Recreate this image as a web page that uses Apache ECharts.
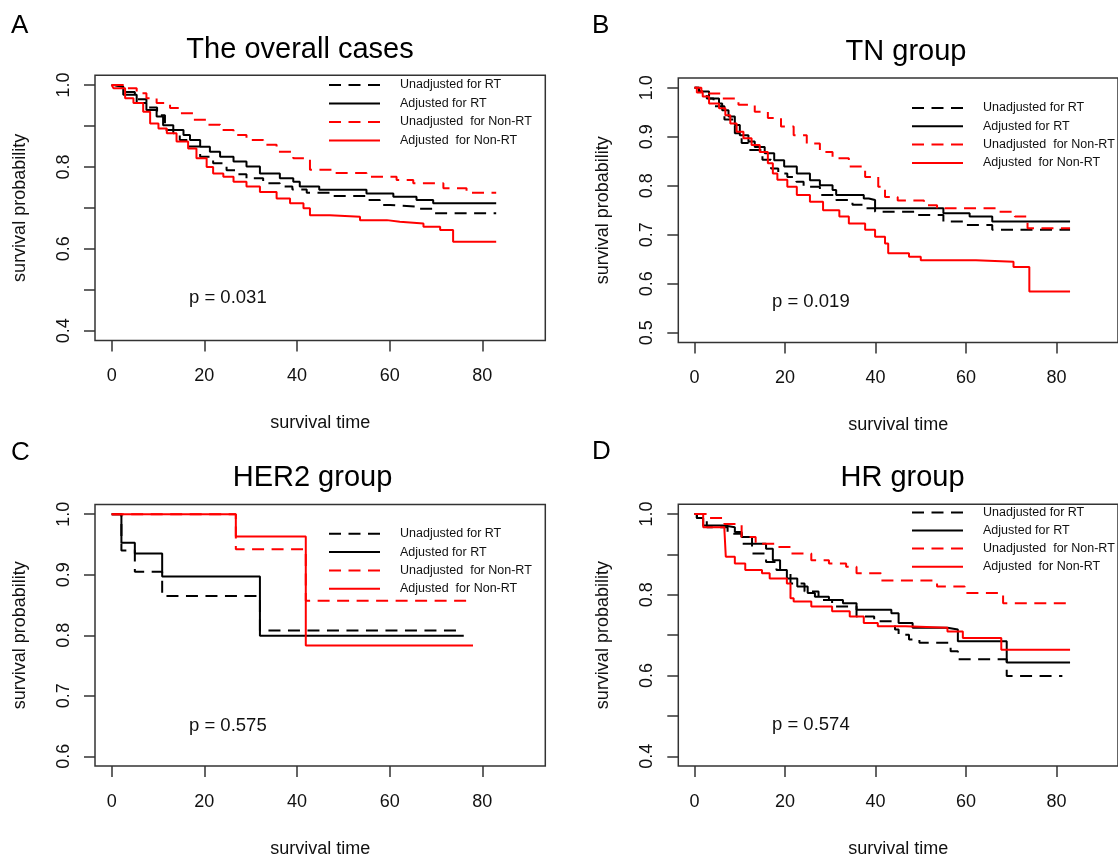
<!DOCTYPE html>
<html>
<head>
<meta charset="utf-8">
<script src="https://cdn.jsdelivr.net/npm/echarts@6/dist/echarts.min.js"></script>
<style>
html,body{margin:0;padding:0;background:#fff;}
#c{width:1118px;height:859px;}
</style>
</head>
<body>
<div id="c"></div>
<script>
// ---------- data ----------
const seriesNames = ['Unadjusted for RT', 'Adjusted for RT', 'Unadjusted  for Non-RT', 'Adjusted  for Non-RT'];
const panelTitles = ['The overall cases', 'TN group', 'HER2 group', 'HR group'];
const panelLetters = ['A', 'B', 'C', 'D'];
const pValues = ['p = 0.031', 'p = 0.019', 'p = 0.575', 'p = 0.574'];
const xTicks = [0, 20, 40, 60, 80];
const yTicksA = [0.4, 0.5, 0.6, 0.7, 0.8, 0.9, 1.0];
const yLabelsA = [0.4, 0.6, 0.8, 1.0];
const yTicksB = [0.5, 0.6, 0.7, 0.8, 0.9, 1.0];
const yTicksC = [0.6, 0.7, 0.8, 0.9, 1.0];
const yTicksD = [0.4, 0.5, 0.6, 0.7, 0.8, 0.9, 1.0];
const yLabelsD = [0.4, 0.6, 0.8, 1.0];

// Panel A: overall cases  [time, survival]
const aUnadjRT = [[0,1],[0.5,0.996],[2.5,0.983],[5,0.965],[7.5,0.945],[9.8,0.926],[11.5,0.89],[13.3,0.882],[14.7,0.866],[16.5,0.85],[19.1,0.825],[21.9,0.809],[24.8,0.792],[27,0.782],[29.1,0.772],[32.7,0.76],[36.3,0.752],[39,0.745],[42.1,0.737],[47.8,0.729],[55,0.719],[57.9,0.707],[60.1,0.703],[66,0.698],[69.4,0.687],[83,0.687]];
const aAdjRT = [[0,1],[0.5,0.996],[2.5,0.976],[5.4,0.956],[7.5,0.939],[9.7,0.923],[11.1,0.902],[13.3,0.89],[15.5,0.878],[16.9,0.866],[19.1,0.849],[21.2,0.837],[23.4,0.825],[26.3,0.813],[29.1,0.801],[32,0.784],[36.3,0.772],[39.2,0.764],[40.6,0.752],[44.8,0.744],[55,0.735],[60.8,0.727],[65.8,0.719],[69.4,0.711],[83,0.711]];
const aUnadjNonRT = [[0,1],[3.2,0.992],[5.4,0.98],[7.5,0.968],[9.7,0.956],[12.6,0.944],[14.7,0.931],[17.6,0.915],[20.5,0.903],[23.4,0.89],[26.3,0.878],[29.1,0.866],[32.7,0.854],[35.6,0.837],[39.2,0.821],[42.8,0.793],[47.8,0.785],[55,0.776],[61.5,0.768],[65.1,0.76],[71.6,0.748],[76.6,0.737],[83,0.737]];
const aAdjNonRT = [[0,1],[0.4,0.992],[2.9,0.968],[4.7,0.956],[6.8,0.935],[8.3,0.906],[10.1,0.894],[11.9,0.882],[14,0.862],[16.5,0.845],[18.3,0.821],[20.5,0.8],[21.9,0.784],[24.1,0.776],[26.3,0.764],[29.1,0.752],[32,0.739],[35.6,0.723],[38.5,0.711],[41.4,0.699],[42.8,0.682],[47.1,0.678],[53.6,0.67],[59.4,0.666],[62.2,0.662],[67.3,0.654],[70.9,0.646],[73.7,0.617],[83,0.617]];

// Panel B: TN group
const bUnadjRT = [[0,1],[1,0.992],[2.7,0.978],[4.2,0.962],[6.6,0.935],[8.9,0.907],[10.4,0.887],[11.9,0.873],[15,0.853],[16.9,0.835],[18.5,0.825],[20.5,0.818],[22.5,0.808],[24.1,0.798],[27.7,0.781],[31.3,0.771],[34.9,0.761],[37.8,0.754],[39.9,0.747],[49.2,0.74],[55,0.727],[60,0.72],[65.8,0.71],[83,0.71]];
const bAdjRT = [[0,1],[1,0.992],[3.2,0.978],[5.4,0.968],[6.1,0.954],[7.5,0.941],[8.9,0.924],[10,0.903],[11.9,0.89],[13.3,0.879],[15.5,0.866],[17.6,0.852],[19.8,0.839],[22.6,0.825],[25.5,0.811],[27.7,0.801],[30.5,0.791],[31.3,0.781],[37.4,0.774],[38.5,0.771],[39.9,0.754],[55,0.744],[60.8,0.737],[65.8,0.727],[83,0.727]];
const bUnadjNonRT = [[0,1],[1.5,0.993],[3.2,0.988],[6.1,0.978],[9.7,0.965],[13.3,0.951],[16.2,0.938],[19.1,0.921],[21.9,0.903],[24.8,0.886],[27.7,0.869],[30.5,0.856],[34.1,0.839],[37.7,0.818],[40.6,0.798],[42.1,0.777],[44.9,0.77],[50.7,0.76],[53.6,0.754],[67.2,0.747],[70.8,0.737],[73.6,0.713],[83,0.713]];
const bAdjNonRT = [[0,1],[0.5,0.99],[1.8,0.982],[3.2,0.968],[5.4,0.958],[6.8,0.944],[7.9,0.927],[9.3,0.91],[10.8,0.897],[12.6,0.883],[14.4,0.869],[16.2,0.846],[17.3,0.825],[18.3,0.812],[20.5,0.798],[22.6,0.781],[25.5,0.767],[28.4,0.75],[32,0.737],[34.1,0.723],[37.7,0.71],[39.9,0.696],[42.1,0.682],[42.8,0.662],[47.4,0.655],[50,0.648],[62.2,0.645],[70.5,0.634],[74,0.584],[83,0.584]];

// Panel C: HER2 group
const cUnadjRT = [[0,1],[2.1,0.94],[5,0.905],[10.9,0.865],[32,0.808],[74.5,0.808]];
const cAdjRT = [[0,1],[2.1,0.953],[5,0.935],[10.9,0.897],[32,0.799],[76,0.799]];
const cUnadjNonRT = [[0,1],[26.8,0.942],[41.9,0.857],[76.8,0.857]];
const cAdjNonRT = [[0,1],[26.8,0.963],[41.9,0.783],[78,0.783]];

// Panel D: HR group
const dUnadjRT = [[0,1],[0.5,0.99],[2.7,0.967],[7.3,0.951],[10.4,0.926],[12.7,0.902],[15.8,0.881],[18.1,0.861],[21.2,0.828],[24.3,0.808],[27.4,0.787],[30.4,0.771],[35.8,0.746],[39.7,0.734],[44.3,0.714],[45.1,0.701],[47.4,0.689],[49.7,0.681],[56.6,0.66],[58.2,0.64],[69,0.599],[81.3,0.599]];
const dAdjRT = [[0,1],[0.5,0.99],[1.9,0.971],[6.6,0.967],[8.9,0.955],[10.4,0.943],[12.7,0.926],[15.8,0.914],[17.3,0.885],[18.9,0.861],[20.4,0.84],[22.7,0.82],[25,0.804],[26.6,0.795],[29.7,0.787],[32.8,0.779],[35.8,0.763],[43.5,0.754],[45.1,0.73],[48.2,0.718],[55.9,0.714],[58.2,0.685],[69,0.632],[83,0.632]];
const dUnadjNonRT = [[0,1],[2.7,0.99],[6.6,0.975],[10.4,0.943],[13.5,0.926],[18.1,0.918],[21.2,0.902],[25.8,0.885],[29.7,0.877],[33.5,0.869],[35.8,0.853],[41.2,0.835],[53.6,0.82],[59.7,0.804],[68.2,0.779],[83,0.779]];
const dAdjNonRT = [[0,1],[1.9,0.967],[6.6,0.959],[6.9,0.894],[8.9,0.877],[11.2,0.861],[14.9,0.853],[16.6,0.84],[20.4,0.828],[21.2,0.791],[21.9,0.783],[25.8,0.771],[30.4,0.759],[34.3,0.746],[37.4,0.73],[40.5,0.722],[46.6,0.718],[55.9,0.709],[59.3,0.693],[67.8,0.664],[83,0.664]];

// ---------- layout / style ----------
const FONT = 'Liberation Sans, Arial, sans-serif';
const TXT = '#111';
const AX = '#333';
const panelData = [
  [aUnadjRT, aAdjRT, aUnadjNonRT, aAdjNonRT],
  [bUnadjRT, bAdjRT, bUnadjNonRT, bAdjNonRT],
  [cUnadjRT, cAdjRT, cUnadjNonRT, cAdjNonRT],
  [dUnadjRT, dAdjRT, dUnadjNonRT, dAdjNonRT]
];
const grids = [
  {left: 95.0, top: 75.2, width: 450.3, height: 265.3},
  {left: 678.3, top: 77.9, width: 450.8, height: 264.6},
  {left: 95.0, top: 504.5, width: 450.3, height: 264.0},
  {left: 678.3, top: 504.2, width: 450.8, height: 263.9}
];
const yRanges = [[0.376, 1.024], [0.48, 1.02], [0.584, 1.016], [0.376, 1.024]];
const yTickSets = [yTicksA, yTicksB, yTicksC, yTicksD];
const yLabelSets = [yLabelsA, yTicksB, yTicksC, yLabelsD];
const DASH = [12, 7.5];
const lineStyles = [
  {color: '#000', width: 2, type: DASH},
  {color: '#000', width: 2, type: 'solid'},
  {color: '#ff0000', width: 2, type: DASH},
  {color: '#ff0000', width: 2, type: 'solid'}
];
const legendPos = [
  {left: 323, top: 73, itemGap: 4.5},
  {left: 906, top: 96, itemGap: 4.3},
  {left: 323, top: 521.8, itemGap: 4.3},
  {left: 906, top: 500.4, itemGap: 4.1}
];
const letterPos = [[11, 26], [592, 26], [11, 453], [592, 452]];
const titlePos = [[300, 50], [906, 52], [312.5, 478], [902.5, 478]];
const pPos = [[189, 298], [772, 302], [189, 726], [772, 725]];

const xAxes = [], yAxes = [], series = [], legends = [], graphics = [];
for (let p = 0; p < 4; p++) {
  xAxes.push({
    type: 'value', gridIndex: p, min: -3.6, max: 93.6,
    splitLine: {show: false}, axisLine: {show: false, onZero: false},
    axisTick: {show: true, length: 11, customValues: xTicks, lineStyle: {color: AX, width: 1.5}},
    axisLabel: {customValues: xTicks, margin: 27, fontSize: 18, fontFamily: FONT, color: TXT},
    name: 'survival time', nameLocation: 'middle', nameGap: 74,
    nameTextStyle: {fontSize: 18, fontFamily: FONT, color: TXT}
  });
  yAxes.push({
    type: 'value', gridIndex: p, min: yRanges[p][0], max: yRanges[p][1],
    splitLine: {show: false}, axisLine: {show: false, onZero: false},
    axisTick: {show: true, length: 11, customValues: yTickSets[p], lineStyle: {color: AX, width: 1.5}},
    axisLabel: {customValues: yLabelSets[p], rotate: 90, margin: 22, fontSize: 18, fontFamily: FONT, color: TXT,
      formatter: v => Number(v).toFixed(1)},
    name: 'survival probability', nameLocation: 'middle', nameGap: 66,
    nameTextStyle: {fontSize: 18, fontFamily: FONT, color: TXT}
  });
  for (let s = 0; s < 4; s++) {
    series.push({
      type: 'line', name: seriesNames[s], xAxisIndex: p, yAxisIndex: p,
      data: panelData[p][s], step: 'end', symbol: 'none', showSymbol: false,
      itemStyle: {color: lineStyles[s].color},
      lineStyle: lineStyles[s], silent: true, animation: false, z: 2 + s
    });
  }
  legends.push({
    left: legendPos[p].left, top: legendPos[p].top, orient: 'vertical',
    itemWidth: 51, itemHeight: 14, itemGap: legendPos[p].itemGap,
    selectedMode: false,
    data: seriesNames.map((n, i) => ({name: n, lineStyle: {type: lineStyles[i].type, width: 2, color: lineStyles[i].color}})),
    itemStyle: {color: 'rgba(0,0,0,0)', borderWidth: 0, opacity: 0},
    textStyle: {fontSize: 12.5, fontFamily: FONT, color: TXT, lineHeight: 14, padding: [0, 0, 0, 15]}
  });
  graphics.push({type: 'text', x: letterPos[p][0], y: letterPos[p][1],
    style: {text: panelLetters[p], font: '26px ' + FONT, fill: '#000', align: 'left', verticalAlign: 'middle'}});
  graphics.push({type: 'text', x: titlePos[p][0], y: titlePos[p][1],
    style: {text: panelTitles[p], font: '29px ' + FONT, fill: '#000', align: 'center', verticalAlign: 'middle'}});
  graphics.push({type: 'text', x: pPos[p][0], y: pPos[p][1],
    style: {text: pValues[p], font: '18.5px ' + FONT, fill: TXT, align: 'left', verticalAlign: 'middle'}});
}

const chart = echarts.init(document.getElementById('c'), null, {renderer: 'canvas'});
chart.setOption({
  animation: false,
  backgroundColor: '#fff',
  grid: grids.map(g => Object.assign({show: true, borderColor: AX, borderWidth: 1.5, backgroundColor: 'transparent', containLabel: false}, g)),
  xAxis: xAxes,
  yAxis: yAxes,
  legend: legends,
  series: series,
  graphic: graphics
});
</script>
</body>
</html>
